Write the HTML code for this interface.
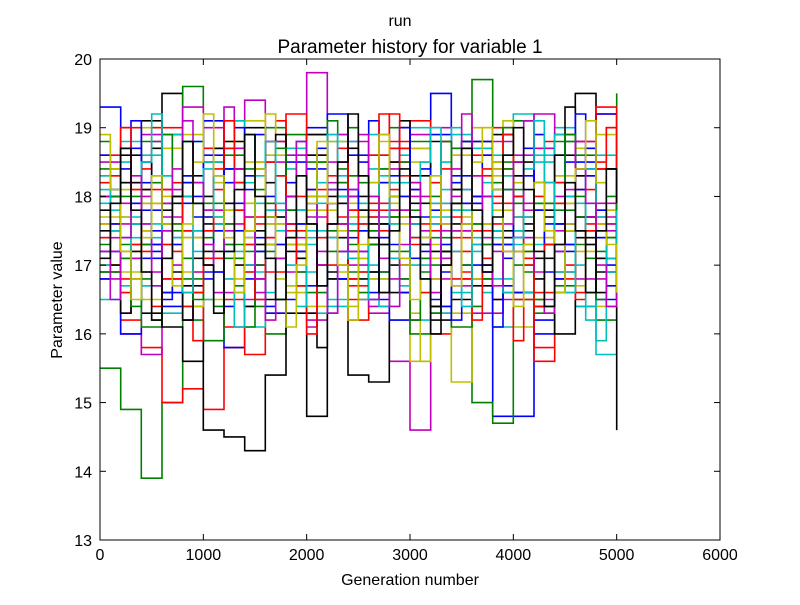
<!DOCTYPE html>
<html><head><meta charset="utf-8"><style>
body{margin:0;background:#fff;}
svg text{font-family:"Liberation Sans",sans-serif;}
</style></head><body>
<svg id="chart" width="800" height="600" xmlns="http://www.w3.org/2000/svg">
<rect width="800" height="600" fill="#fff"/>
<text x="400" y="26" font-size="16" text-anchor="middle">run</text>
<text x="410" y="53" font-size="19" text-anchor="middle">Parameter history for variable 1</text>
<g id="series"></g>
<rect x="100" y="59" width="620" height="481" fill="none" stroke="#000" stroke-width="1"/>
<g id="axes"></g>
<text x="410" y="585" font-size="16" text-anchor="middle">Generation number</text>
<text x="62" y="300" font-size="16" text-anchor="middle" transform="rotate(-90 62 300)">Parameter value</text>
</svg>
<script>
const xTicks=[0,1000,2000,3000,4000,5000,6000];
const yTicks=[13,14,15,16,17,18,19,20];
const maxGen=5000;
const colors=['#0000ff','#008000','#ff0000','#00bfbf','#bf00bf','#bfbf00','#000000'];
const b1=[19.3,18.2,17.1,16.4,17.5,18.6,17.9,16.8,17.3,18.5,19.0,18.1,17.2,16.5,17.8,18.7,19.5,18.3,17.0,14.8,14.8,16.2,17.6,18.4,17.1,18.0];
const b2=[17.2,16.0,17.8,18.9,18.0,16.9,15.8,17.4,18.8,17.6,16.7,17.9,18.6,17.3,16.2,17.7,18.9,17.5,16.8,18.1,17.4,16.0,17.2,18.5,19.2,17.6];
const b3=[18.0,18.7,17.5,16.6,17.9,19.1,18.2,17.0,16.3,17.6,18.4,19.2,17.8,16.9,18.0,17.1,16.4,17.9,18.8,17.3,16.6,18.2,18.9,17.7,16.5,17.3];
const g1=[15.5,14.9,13.9,15.0,16.8,17.9,18.6,17.2,16.0,17.3,18.5,17.6,16.9,18.2,19.0,17.4,16.3,17.8,15.0,14.7,16.5,17.9,18.8,17.5,16.2,19.5];
const g2=[18.4,17.3,16.1,17.6,19.6,18.5,17.1,16.4,17.7,18.9,18.0,16.8,17.5,18.6,17.2,16.0,17.4,18.7,19.7,18.1,17.0,16.3,17.8,18.6,17.4,18.2];
const g3=[16.9,18.0,18.8,17.5,16.2,15.9,17.3,18.4,19.0,17.8,16.6,17.2,18.3,16.9,17.7,18.8,17.0,16.1,17.6,18.5,19.1,17.9,16.7,17.3,18.4,17.0];
const r1=[17.0,16.2,15.8,15.0,15.2,14.9,15.8,17.0,16.3,17.5,18.6,17.4,16.5,17.9,18.8,17.6,16.4,17.2,18.3,19.0,17.7,15.8,16.9,18.1,19.2,18.0];
const r2=[18.6,19.0,17.9,16.8,17.4,18.7,16.1,15.7,16.9,18.0,18.9,17.6,16.7,17.8,18.5,17.3,16.0,17.4,18.6,17.9,16.5,15.6,16.8,18.3,19.3,17.4];
const r3=[17.6,16.8,18.1,19.0,18.2,17.1,16.5,17.7,18.8,19.2,18.1,17.0,16.2,17.5,18.7,19.1,17.9,16.8,17.5,18.4,17.2,16.6,17.9,18.8,17.6,16.9];
const c1=[18.1,17.4,16.7,17.9,18.8,19.1,17.8,16.9,17.6,18.6,17.4,16.5,17.7,18.9,18.2,17.0,16.3,17.8,18.7,16.1,17.3,18.5,19.0,17.9,15.7,16.0];
const c2=[16.5,17.7,18.6,17.3,16.4,17.8,19.1,18.3,17.1,16.7,17.9,18.8,17.6,16.8,18.0,19.0,17.7,16.6,17.4,18.6,19.2,17.8,16.9,17.5,18.6,17.2];
const c3=[17.9,18.8,17.6,16.3,17.4,18.5,17.2,16.1,17.8,18.7,17.5,16.4,17.6,18.4,17.1,16.2,17.9,18.9,17.6,16.8,17.7,18.6,17.3,16.4,17.8,18.5];
const m1=[17.4,16.0,15.7,16.8,18.2,19.0,17.6,16.5,17.8,18.6,19.8,18.2,17.0,16.3,15.6,14.6,16.8,18.1,17.3,16.5,17.9,18.7,17.5,16.4,17.7,16.6];
const m2=[18.5,17.6,16.9,18.1,19.3,17.8,16.6,17.3,18.5,17.4,16.2,17.6,18.8,17.7,16.8,18.0,19.0,17.5,16.3,17.2,18.6,19.2,18.0,16.8,17.5,18.3];
const m3=[16.8,17.9,18.9,17.7,16.6,17.5,18.7,19.4,17.9,16.9,17.7,18.5,17.2,16.4,17.8,18.9,17.6,16.7,18.0,18.8,17.4,16.5,17.6,18.8,17.9,16.5];
const y1=[18.3,17.2,16.5,17.6,18.9,17.7,16.8,17.9,18.6,17.3,16.4,17.5,18.3,17.6,16.2,15.6,17.2,18.6,19.0,17.8,16.1,17.4,18.3,17.2,16.4,16.2];
const y2=[17.0,18.1,19.0,18.0,16.9,17.7,18.8,19.1,17.6,16.6,17.8,18.9,17.7,16.9,17.6,18.7,17.3,15.3,16.8,18.3,19.1,17.9,16.6,17.7,18.9,18.0];
const y3=[17.7,16.9,17.9,18.7,17.4,16.5,17.8,18.5,17.3,16.7,18.0,18.8,17.9,16.8,17.7,18.5,17.1,16.3,17.6,18.4,17.2,16.4,17.9,18.7,17.6,17.1];
const k1=[18.0,17.1,16.3,19.5,18.3,14.6,14.5,14.3,15.4,17.2,18.6,17.4,15.4,15.3,17.0,18.3,17.2,16.5,18.0,18.9,17.5,16.4,17.3,19.5,17.1,14.6];
const k2=[16.9,18.2,19.1,17.9,16.7,17.6,18.8,17.5,16.5,17.8,18.9,18.0,16.8,17.6,18.7,17.4,16.2,17.9,18.8,17.3,16.6,17.8,18.6,17.4,16.9,17.5];
const k3=[17.5,18.6,17.3,16.1,15.6,17.2,18.4,19.0,17.7,16.3,14.8,16.8,18.0,17.3,16.6,17.9,18.8,17.6,16.7,17.5,18.5,17.1,16.0,17.7,18.4,17.0];
const b4=[18.6,18.1,17.4,17.9,18.5,17.2,16.6,17.3,18.2,18.8,17.7,16.9,16.4,17.5,18.3,18.9,18.0,17.1,16.5,17.2,18.1,18.7,17.9,16.8,17.4,18.5,19.1,18.2,17.3,16.6,17.6,18.4,17.8,16.9,16.2,17.0,18.0,18.6,17.5,16.7,17.4,18.3,18.9,17.6,16.8,17.3,18.1,18.7,17.8,17.0,17.6];
const g4=[17.3,18.0,18.7,17.6,16.8,16.2,17.1,18.0,18.8,17.9,17.0,16.4,17.3,18.2,18.9,18.1,17.2,16.5,17.4,18.3,17.6,16.7,17.5,18.4,19.0,18.2,17.3,16.6,17.7,18.5,17.8,16.9,16.3,17.2,18.1,18.8,17.6,16.8,17.5,18.4,17.9,16.9,16.4,17.3,18.2,18.8,17.7,16.6,17.2,18.0,18.6];
const r4=[18.2,17.5,16.6,17.3,18.4,19.0,18.1,17.2,16.4,15.9,17.0,18.1,18.7,17.8,16.9,17.6,18.5,19.1,18.0,17.1,16.3,17.4,18.3,17.7,16.8,17.6,18.6,19.2,18.1,17.0,16.2,17.3,18.2,18.8,17.9,16.9,17.5,18.4,17.6,16.6,15.9,17.0,18.0,18.8,17.9,17.0,16.5,17.6,18.5,19.0,18.3];
const c4=[17.0,17.8,18.5,17.6,16.7,17.4,18.3,18.9,18.0,17.2,16.5,17.6,18.4,19.1,18.2,17.3,16.6,17.5,18.4,17.8,16.9,16.3,17.4,18.3,18.8,17.9,17.0,16.4,17.5,18.6,17.7,16.8,17.6,18.5,19.0,18.1,17.2,16.6,17.4,18.3,17.5,16.6,17.3,18.2,18.9,18.0,17.0,16.2,15.9,17.1,18.2];
const m4=[18.0,17.2,16.3,17.1,18.0,18.8,17.9,17.0,16.2,16.9,17.8,18.7,19.3,18.4,17.5,16.6,17.4,18.3,17.6,16.7,16.1,17.2,18.1,18.9,18.0,17.1,16.5,17.4,18.4,19.0,18.1,17.3,16.4,17.1,18.0,18.7,17.8,16.9,16.3,17.4,18.3,19.1,18.2,17.3,16.6,17.5,18.4,17.7,16.8,17.6,18.4];
const y4=[17.6,18.4,17.7,16.8,17.5,18.3,18.9,18.0,17.1,16.4,17.3,18.2,17.5,16.6,17.4,18.5,19.2,18.3,17.4,16.7,17.6,18.5,17.8,16.9,16.2,17.1,18.0,18.8,17.9,17.0,16.3,15.6,16.8,17.8,18.6,17.7,16.8,17.6,18.5,19.1,18.2,17.3,16.5,17.4,18.3,17.6,16.7,17.5,18.4,17.8,17.2];
const k4=[17.8,17.0,16.3,17.2,18.1,18.7,17.8,16.9,16.2,17.1,18.0,18.7,17.9,17.0,16.4,17.3,18.2,18.9,18.0,17.1,16.3,15.8,16.9,17.9,18.7,17.8,16.9,17.6,18.5,19.1,18.2,17.3,16.4,17.2,18.1,18.8,17.9,17.0,16.5,17.4,18.3,17.6,16.8,17.7,18.6,19.3,18.3,17.3,16.6,17.4,18.2];
const b5=[16.8,17.6,18.4,19.1,18.2,17.3,16.5,17.4,18.3,17.7,16.8,17.5,18.4,19.0,18.1,17.2,16.4,17.3,18.2,18.8,17.9,17.0,16.3,17.2,18.1,17.5,16.6,17.4,18.3,19.0,18.1,17.2,16.5,17.3,18.2,18.8,17.9,16.9,16.1,17.1,18.0,18.7,17.8,16.9,17.6,18.5,19.2,18.3,17.4,16.7,17.5];
const g5=[18.8,18.0,17.1,16.4,17.3,18.2,18.9,18.0,17.1,16.5,17.4,18.3,17.6,16.7,16.1,17.0,17.9,18.7,17.8,16.9,17.6,18.5,19.1,18.2,17.3,16.6,17.5,18.4,17.7,16.8,16.2,17.1,18.0,18.8,17.9,17.0,16.4,17.3,18.2,19.0,18.1,17.2,16.5,17.3,18.2,18.9,18.0,17.1,16.5,17.4,18.3];
const r5=[17.4,18.3,19.0,18.1,17.2,16.4,17.3,18.2,17.5,16.6,17.5,18.4,19.1,18.2,17.3,16.5,17.4,18.3,17.6,16.7,16.0,17.0,17.9,18.7,17.8,16.9,17.7,18.6,19.2,18.3,17.4,16.6,17.5,18.4,17.7,16.8,16.2,17.1,18.0,18.9,18.0,17.1,16.4,17.3,18.2,17.5,16.6,17.5,18.4,19.0,18.0];
const c5=[18.3,17.5,16.7,17.6,18.5,19.2,18.3,17.4,16.6,17.5,18.4,17.7,16.8,16.1,17.0,17.9,18.8,17.9,17.0,16.4,17.3,18.2,18.9,18.0,17.1,16.5,17.4,18.3,17.6,16.7,17.6,18.5,19.0,18.1,17.2,16.4,17.3,18.2,17.5,16.6,17.4,18.4,19.1,18.2,17.3,16.6,17.5,18.4,17.7,16.9,17.8];
const m5=[17.2,16.5,17.4,18.3,17.6,16.7,17.5,18.4,19.1,18.2,17.3,16.6,17.5,18.4,17.7,16.8,16.2,17.1,18.0,18.8,17.9,17.0,16.3,17.2,18.1,18.9,18.0,17.1,16.4,17.3,18.2,17.5,16.6,17.5,18.4,19.2,18.3,17.4,16.7,17.6,18.5,17.8,16.9,16.3,17.2,18.1,18.8,17.9,17.0,16.4,17.3];
const y5=[18.9,18.1,17.2,16.5,17.4,18.3,17.6,16.7,17.6,18.5,19.2,18.3,17.4,16.6,17.5,18.4,17.7,16.8,16.1,17.0,17.9,18.8,17.9,17.0,16.4,17.3,18.2,18.9,18.0,17.1,16.5,17.4,18.3,17.6,16.7,17.6,18.5,19.0,18.1,17.2,16.4,17.3,18.2,17.5,16.6,17.5,18.4,19.1,18.2,17.3,16.6];
const k5=[17.1,17.9,18.7,17.8,16.9,16.2,17.1,18.0,18.8,17.9,17.0,16.3,17.2,18.1,18.9,18.0,17.1,16.5,17.4,18.3,17.6,16.7,17.6,18.5,19.2,18.3,17.4,16.6,17.5,18.4,17.7,16.8,16.0,17.0,17.9,18.7,17.8,16.9,17.7,18.6,19.0,18.1,17.2,16.4,17.3,18.2,17.5,16.6,17.5,18.4,17.9];
const seriesList=[b1,g1,r1,c1,m1,y1,k1,b2,g2,r2,c2,m2,y2,k2,b3,g3,r3,c3,m3,y3,k3,b4,g4,r4,c4,m4,y4,k4,b5,g5,r5,c5,m5,y5,k5];

const NS='http://www.w3.org/2000/svg';
const X0=100,X1=720,Y0=540,Y1=59;
function xs(v){return X0+(v-0)/(6000-0)*(X1-X0);}
function ys(v){return Y0-(v-13)/(20-13)*(Y0-Y1);}

const sg=document.getElementById('series');
seriesList.forEach((s,si)=>{
  const step=maxGen/(s.length-1);
  let d='';
  for(let i=0;i<s.length;i++){
    const x=xs(i*step), y=ys(s[i]);
    d+=(i===0?'M':'L')+x.toFixed(1)+','+y.toFixed(1);
    if(i<s.length-1) d+='L'+xs((i+1)*step).toFixed(1)+','+y.toFixed(1);
  }
  const p=document.createElementNS(NS,'path');
  p.setAttribute('d',d);
  p.setAttribute('fill','none');
  p.setAttribute('stroke',colors[si%colors.length]);
  p.setAttribute('stroke-width','1.6');
  
  
  sg.appendChild(p);
});

const ag=document.getElementById('axes');
function add(tag,attrs,text){
  const e=document.createElementNS(NS,tag);
  for(const k in attrs)e.setAttribute(k,attrs[k]);
  if(text!==undefined)e.textContent=text;
  ag.appendChild(e);return e;
}
xTicks.forEach(t=>{
  const x=xs(t);
  add('line',{x1:x,x2:x,y1:Y0,y2:Y0-6,stroke:'#000'});
  add('line',{x1:x,x2:x,y1:Y1,y2:Y1+6,stroke:'#000'});
  const e=add('text',{x:x,y:Y0+20,'font-size':16,'text-anchor':'middle'},String(t));
  
  
});
yTicks.forEach(t=>{
  const y=ys(t);
  add('line',{x1:X0,x2:X0+6,y1:y,y2:y,stroke:'#000'});
  add('line',{x1:X1,x2:X1-6,y1:y,y2:y,stroke:'#000'});
  const e=add('text',{x:X0-8,y:y+6,'font-size':16,'text-anchor':'end'},String(t));
  
  
});
</script>
</body></html>
